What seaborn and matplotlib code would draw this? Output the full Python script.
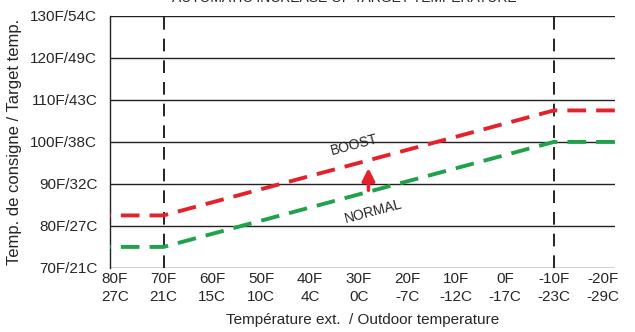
import numpy as np
import pandas as pd
import matplotlib
matplotlib.use("Agg")
import matplotlib.pyplot as plt
import seaborn as sns

# Données
outdoor_f = [81, 70, -10, -22.5]
normal = [75, 75, 100, 100]
boost = [82.5, 82.5, 107.5, 107.5]

x_ticks_f = [80, 70, 60, 50, 40, 30, 20, 10, 0, -10, -20]
x_ticks_c = ["27C", "21C", "15C", "10C", "4C", "0C", "-7C", "-12C", "-17C", "-23C", "-29C"]
y_ticks_f = [70, 80, 90, 100, 110, 120, 130]
y_ticks_lbl = ["70F/21C", "80F/27C", "90F/32C", "100F/38C", "110F/43C", "120F/49C", "130F/54C"]
limits_f = [70, -10]
arrow_f = 28

df = pd.DataFrame({
    "outdoor": outdoor_f * 2,
    "target": normal + boost,
    "mode": ["NORMAL"] * len(normal) + ["BOOST"] * len(boost),
})

sns.set_style("white")
plt.rcParams["font.family"] = ["Liberation Sans Narrow", "Liberation Sans", "DejaVu Sans"]

fig = plt.figure(figsize=(6.35, 3.32), dpi=100)
ax = fig.add_axes([0.173, 0.193, 0.796, 0.759])

palette = {"NORMAL": "#1fa24c", "BOOST": "#e3222b"}
sns.lineplot(data=df, x="outdoor", y="target", hue="mode", palette=palette,
             linewidth=2.8, legend=False, ax=ax, zorder=3)
for line in ax.get_lines():
    line.set_dashes([4.8, 2.6])
    line.set_solid_capstyle("butt")

# lignes de grille horizontales
for yv in y_ticks_f:
    ax.axhline(yv, color="#222222", lw=1.0, zorder=1)

# limites verticales en pointillé
for xv in limits_f:
    ax.axvline(xv, color="#111111", lw=1.3, dashes=(7, 5), zorder=2)

ax.set_xlim(81, -22.6)
ax.set_ylim(70, 130)

ax.set_xticks(x_ticks_f)
ax.set_xticklabels([f"{f}F\n{c}" for f, c in zip(x_ticks_f, x_ticks_c)],
                   fontsize=11, linespacing=1.4)
ax.set_yticks(y_ticks_f)
ax.set_yticklabels(y_ticks_lbl, fontsize=11)
ax.tick_params(axis="both", length=0, pad=3)
ax.tick_params(axis="y", pad=9)

for s in ["top", "right", "bottom"]:
    ax.spines[s].set_visible(False)
ax.spines["left"].set_color("#222222")
ax.spines["left"].set_linewidth(1.0)

ax.set_xlabel("Température ext.  / Outdoor temperature", fontsize=11, labelpad=6)
ax.set_ylabel("Temp. de consigne / Target temp.", fontsize=12, labelpad=6,
              family=["Liberation Sans", "DejaVu Sans"])

# flèche entre NORMAL et BOOST
x_rev = outdoor_f[::-1]
y_low = np.interp(arrow_f, x_rev, normal[::-1])
y_high = np.interp(arrow_f, x_rev, boost[::-1])
ax.annotate("", xy=(arrow_f, y_high - 1.2), xytext=(arrow_f, y_low - 0.3),
            arrowprops=dict(arrowstyle="-|>,head_width=0.38,head_length=0.75",
                            color="#e3222b", lw=2.5), zorder=4)

ax.text(arrow_f + 3, y_high + 0.6, "BOOST", rotation=15, fontsize=10,
        ha="center", va="bottom", family=["Liberation Sans", "DejaVu Sans"])
ax.text(arrow_f - 1, y_low - 1.3, "NORMAL", rotation=15, fontsize=10,
        ha="center", va="top", family=["Liberation Sans", "DejaVu Sans"])

fig.text(0.543, 1.005, "AUTOMATIC INCREASE OF TARGET TEMPERATURE", fontsize=10,
         ha="center", va="center", family=["Liberation Sans", "DejaVu Sans"])

fig.savefig("out.png", dpi=100)
